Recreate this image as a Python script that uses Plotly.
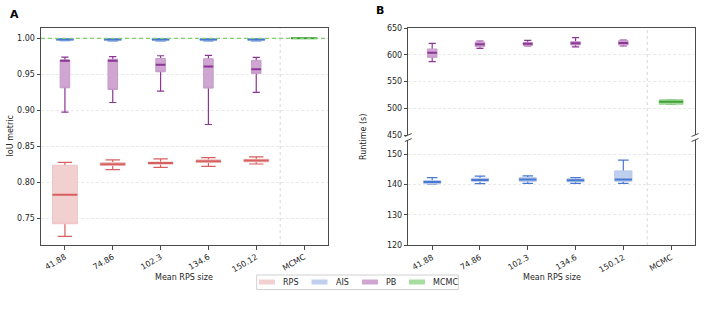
import plotly.graph_objects as go

# ---------------- data ----------------
categories = ["41.88", "74.86", "102.3", "134.6", "150.12", "MCMC"]
rps_x = [0, 1, 2, 3, 4]
mcmc_x = [5]
legend_names = ["RPS", "AIS", "PB", "MCMC"]

# Panel A: IoU metric (box statistics)
rps_iou_low = [0.7254, 0.8180, 0.8212, 0.8226, 0.8258]
rps_iou_q1 = [0.7430, 0.8236, 0.8255, 0.8278, 0.8287]
rps_iou_med = [0.7830, 0.8254, 0.8272, 0.8296, 0.8305]
rps_iou_q3 = [0.8240, 0.8278, 0.8285, 0.8316, 0.8323]
rps_iou_high = [0.8280, 0.8314, 0.8328, 0.8347, 0.8356]

ais_iou_low = [0.9966, 0.9965, 0.9964, 0.9965, 0.9965]
ais_iou_q1 = [0.9978, 0.9977, 0.9976, 0.9977, 0.9977]
ais_iou_med = [0.9985, 0.9985, 0.9984, 0.9985, 0.9984]
ais_iou_q3 = [0.9992, 0.9992, 0.9991, 0.9992, 0.9991]
ais_iou_high = [0.9997, 0.9997, 0.9996, 0.9997, 0.9997]

pb_iou_low = [0.8976, 0.9110, 0.9268, 0.8805, 0.9250]
pb_iou_q1 = [0.9314, 0.9290, 0.9536, 0.9310, 0.9514]
pb_iou_med = [0.9690, 0.9690, 0.9633, 0.9610, 0.9570]
pb_iou_q3 = [0.9700, 0.9710, 0.9720, 0.9717, 0.9694]
pb_iou_high = [0.9740, 0.9745, 0.9758, 0.9764, 0.9736]

mcmc_iou_low = [1.0]
mcmc_iou_q1 = [1.0]
mcmc_iou_med = [1.0]
mcmc_iou_q3 = [1.0]
mcmc_iou_high = [1.0]

iou_reference = 1.0

# Panel B: runtime (s)
pb_rt_low = [587.4, 612.5, 616.8, 615.0, 616.8]
pb_rt_q1 = [595.6, 615.5, 618.0, 618.7, 618.7]
pb_rt_med = [604.3, 620.0, 621.1, 621.9, 622.5]
pb_rt_q3 = [611.2, 624.3, 623.0, 625.0, 626.8]
pb_rt_high = [621.9, 626.2, 627.5, 632.4, 628.0]

mcmc_rt_low = [507.5]
mcmc_rt_q1 = [507.5]
mcmc_rt_med = [512.4]
mcmc_rt_q3 = [516.2]
mcmc_rt_high = [516.2]

ais_rt_low = [140.2, 140.3, 140.4, 140.4, 140.4]
ais_rt_q1 = [140.4, 141.1, 141.1, 140.9, 141.1]
ais_rt_med = [140.9, 141.5, 141.7, 141.4, 141.7]
ais_rt_q3 = [141.3, 142.1, 142.3, 141.9, 144.5]
ais_rt_high = [142.3, 142.8, 142.9, 142.3, 148.1]

iou_ticks = [0.75, 0.80, 0.85, 0.90, 0.95, 1.00]
rt_top_ticks = [450, 500, 550, 600, 650]
rt_bot_ticks = [120, 130, 140, 150]

# ---------------- styles ----------------
W, H = 706, 325
FONT = "DejaVu Sans"
TXT = "#262626"
AX = "#4a4a4a"
GRID = "#e9e9e9"

STY = {
    "RPS": dict(dark="#d65f5f", fill="#f3d0d0", edge="#f0c4c4"),
    "AIS": dict(dark="#4878d0", fill="#bfd0ef", edge="#b4c7ec"),
    "PB": dict(dark="#8b3595", fill="#cfa6d2", edge="#c69bca"),
    "MCMC": dict(dark="#3f9f35", fill="#a9dca1", edge="#9fd896"),
}

fig = go.Figure()


def add_series(name, xs, low, q1, med, q3, high, xa, ya, width, capw):
    s = STY[name]
    common = dict(x=xs, xaxis=xa, yaxis=ya, boxpoints=False, showlegend=False,
                  hoverinfo="skip")
    # whiskers + caps
    fig.add_trace(go.Box(lowerfence=low, q1=med, median=med, q3=med, upperfence=high,
                         width=capw, whiskerwidth=1, fillcolor=s["dark"],
                         line=dict(color=s["dark"], width=1.2), **common))
    # box body
    fig.add_trace(go.Box(lowerfence=q1, q1=q1, median=q1, q3=q3, upperfence=q3,
                         width=width, whiskerwidth=0, fillcolor=s["fill"],
                         line=dict(color=s["edge"], width=1), **common))
    # median
    fig.add_trace(go.Box(lowerfence=med, q1=med, median=med, q3=med, upperfence=med,
                         width=width, whiskerwidth=0, fillcolor=s["dark"],
                         line=dict(color=s["dark"], width=2), **common))


# Panel A
add_series("RPS", rps_x, rps_iou_low, rps_iou_q1, rps_iou_med, rps_iou_q3, rps_iou_high,
           "x", "y", 0.52, 0.3)
add_series("PB", rps_x, pb_iou_low, pb_iou_q1, pb_iou_med, pb_iou_q3, pb_iou_high,
           "x", "y", 0.2, 0.15)
add_series("AIS", rps_x, ais_iou_low, ais_iou_q1, ais_iou_med, ais_iou_q3, ais_iou_high,
           "x", "y", 0.36, 0.22)
add_series("MCMC", mcmc_x, mcmc_iou_low, mcmc_iou_q1, mcmc_iou_med, mcmc_iou_q3, mcmc_iou_high,
           "x", "y", 0.55, 0.2)

# Panel B top
add_series("PB", rps_x, pb_rt_low, pb_rt_q1, pb_rt_med, pb_rt_q3, pb_rt_high,
           "x2", "y2", 0.2, 0.15)
add_series("MCMC", mcmc_x, mcmc_rt_low, mcmc_rt_q1, mcmc_rt_med, mcmc_rt_q3, mcmc_rt_high,
           "x2", "y2", 0.5, 0.2)
# Panel B bottom
add_series("AIS", rps_x, ais_rt_low, ais_rt_q1, ais_rt_med, ais_rt_q3, ais_rt_high,
           "x3", "y3", 0.36, 0.22)


def px(x):
    return x / W


def py(y):
    return 1 - y / H


A_X = [px(41), px(328)]
A_Y = [py(245), py(28)]
B_X = [px(408.3), px(695)]
BT_Y = [py(135), py(28.3)]
BB_Y = [py(245.3), py(140)]

tickfont = dict(family=FONT, size=8, color=TXT)
xcommon = dict(range=[-0.5, 5.5], tickmode="array", tickvals=list(range(len(categories))),
               ticktext=categories, showgrid=False, zeroline=False, showline=True,
               linecolor=AX, linewidth=1, tickfont=tickfont, ticklen=3.5,
               tickcolor=AX, tickwidth=0.8, automargin=False)
ycommon = dict(showgrid=True, gridcolor=GRID, griddash="3px,2px", gridwidth=0.8,
               zeroline=False, showline=True, mirror=True, linecolor=AX, linewidth=1,
               ticks="outside", ticklen=3.5, tickcolor=AX, tickwidth=0.8, tickfont=tickfont,
               automargin=False)

fig.update_layout(
    width=W, height=H, margin=dict(l=0, r=0, t=0, b=0, autoexpand=False),
    paper_bgcolor="white", plot_bgcolor="white",
    font=dict(family=FONT, size=8, color=TXT),
    boxmode="overlay",
    showlegend=False,
    xaxis=dict(domain=A_X, anchor="y", ticks="outside", tickangle=-30, mirror=True, **xcommon),
    yaxis=dict(domain=A_Y, anchor="x", range=[0.7135, 1.0143], tickvals=iou_ticks,
               ticktext=[f"{v:.2f}" for v in iou_ticks], **ycommon),
    xaxis2=dict(domain=B_X, anchor="y2", side="top", ticks="", showticklabels=False,
                **xcommon),
    yaxis2=dict(domain=BT_Y, anchor="x2", range=[450, 650], tickvals=rt_top_ticks,
                ticktext=[str(v) for v in rt_top_ticks], **ycommon),
    xaxis3=dict(domain=B_X, anchor="y3", ticks="outside", tickangle=-30, **xcommon),
    yaxis3=dict(domain=BB_Y, anchor="x3", range=[120, 154.7], tickvals=rt_bot_ticks,
                ticktext=[str(v) for v in rt_bot_ticks], **ycommon),
)

shapes = []
# MCMC separators
for xr, yr in [("x", "y domain"), ("x2", "y2 domain"), ("x3", "y3 domain")]:
    shapes.append(dict(type="line", xref=xr, yref=yr, x0=4.5, x1=4.5, y0=0, y1=1,
                       line=dict(color="#d6d6d6", width=1, dash="dot"), layer="below"))
# reference line at IoU = 1
shapes.append(dict(type="line", xref="x domain", yref="y", x0=0, x1=1,
                   y0=iou_reference, y1=iou_reference,
                   line=dict(color="#7fd06f", width=1.3, dash="4px,3px")))
# axis break marks
for bx in [408.3, 695]:
    for by in [135, 140]:
        shapes.append(dict(type="line", xref="paper", yref="paper",
                           x0=px(bx - 3.5), x1=px(bx + 3.5), y0=py(by + 1.5), y1=py(by - 1.5),
                           line=dict(color=AX, width=1)))

ann = [
    dict(text="<b>A</b>", x=px(8), y=py(14), xanchor="left", yanchor="middle",
         font=dict(size=11, color="black")),
    dict(text="<b>B</b>", x=px(374), y=py(10), xanchor="left", yanchor="middle",
         font=dict(size=11, color="black")),
    dict(text="IoU metric", x=px(10), y=py(136.5), textangle=-90,
         xanchor="center", yanchor="middle"),
    dict(text="Runtime (s)", x=px(363), y=py(137), textangle=-90,
         xanchor="center", yanchor="middle"),
    dict(text="Mean RPS size", x=px(184.5), y=py(277.3), xanchor="center", yanchor="middle"),
    dict(text="Mean RPS size", x=px(551.7), y=py(277.3), xanchor="center", yanchor="middle"),
]

# legend box (drawn as layout decoration)
LEG_L, LEG_R, LEG_T, LEG_B = 256.7, 458.3, 275.0, 289.5
shapes.append(dict(type="rect", xref="paper", yref="paper",
                   x0=px(LEG_L), x1=px(LEG_R), y0=py(LEG_B), y1=py(LEG_T),
                   line=dict(color="#d0d0d0", width=1), fillcolor="white"))
leg_swatch_x = [259, 311.5, 362, 409]
for nm, sx in zip(legend_names, leg_swatch_x):
    shapes.append(dict(type="rect", xref="paper", yref="paper",
                       x0=px(sx), x1=px(sx + 16), y0=py(284.5), y1=py(279.5),
                       line=dict(width=0), fillcolor=STY[nm]["fill"]))
    ann.append(dict(text=nm, x=px(sx + 22), y=py(282.2), xanchor="left", yanchor="middle"))

for a in ann:
    a.update(xref="paper", yref="paper", showarrow=False)
    a.setdefault("font", dict(size=8, color=TXT))
    a["font"].setdefault("family", FONT)
fig.update_layout(shapes=shapes, annotations=ann)

fig.write_html("out.html")
